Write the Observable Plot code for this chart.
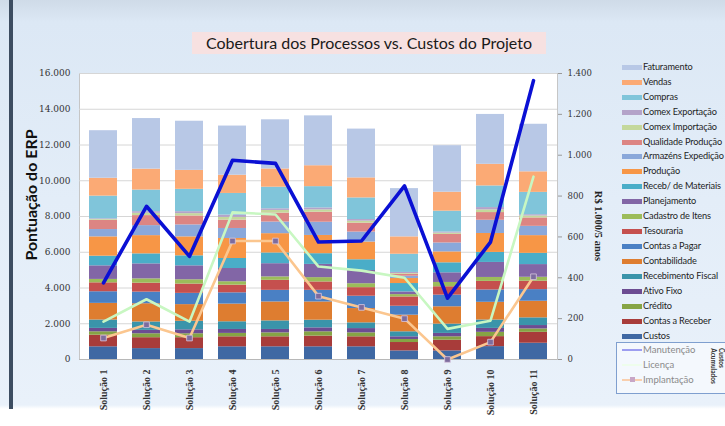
<!DOCTYPE html>
<html><head><meta charset="utf-8">
<script src="https://cdn.jsdelivr.net/npm/d3@7"></script>
<script src="https://cdn.jsdelivr.net/npm/@observablehq/plot@0.6"></script>
<style>
html,body{margin:0;padding:0;}
body{width:725px;height:426px;overflow:hidden;background:#fff;font-family:Lato,sans-serif;}
#wrap{position:relative;width:725px;height:426px;overflow:hidden;
  background:linear-gradient(#cfdbe8 0px,#dce8f5 22px,#e3edf8 200px,#e9f1fa 405px,#ffffff 409px);}
#lborder{position:absolute;left:9px;top:0;width:4px;height:409px;background:#3d4d61;}
#chart{position:absolute;left:0;top:0;}
#title{position:absolute;left:192px;top:32px;width:354px;height:22px;background:#f7e1e1;
  font:16px Lato,sans-serif;color:#1a1a1a;text-align:center;line-height:22px;white-space:nowrap;}
#ytitle{position:absolute;left:30px;top:195px;transform:translate(-50%,-50%) rotate(-90deg);
  font:bold 16px Lato,sans-serif;color:#111;white-space:nowrap;}
#rtitle{position:absolute;left:598px;top:226px;transform:translate(-50%,-50%) rotate(90deg);
  font:bold 10.5px "Liberation Serif",serif;color:#222;white-space:nowrap;}
.li{position:absolute;left:622px;height:14px;font:9.2px Lato,sans-serif;letter-spacing:-0.15px;color:#1e1e1e;white-space:nowrap;}
.li .sw{position:absolute;left:0;top:5px;width:20px;height:5px;}
.li .tx{position:absolute;left:21px;top:0;line-height:14px;}
#box2{position:absolute;left:616px;top:342px;width:120px;height:50px;border:1px solid #7f9fcf;background:#f4f8fd;}
.l2{position:absolute;left:622px;height:14px;font:9.5px Lato,sans-serif;color:#8a8a8a;white-space:nowrap;}
.l2 .ln{position:absolute;left:0;top:6px;width:20px;height:2px;}
.l2 .tx{position:absolute;left:21px;top:0;line-height:14px;}
.vt{position:absolute;transform:translate(-50%,-50%) rotate(90deg);font:bold 6.5px Lato,sans-serif;color:#333;white-space:nowrap;}
</style>
</head><body>
<div id="wrap">
<div id="lborder"></div>
<div id="chart"></div>
<div id="title">Cobertura dos Processos vs. Custos do Projeto</div>
<div id="ytitle">Pontuação do ERP</div>
<div id="rtitle">R$ 1.000/5 anos</div>
<div id="legend"></div>
<div id="box2"></div>
<div id="legend2"></div>
<div class="vt" style="left:713px;top:366px;">Acumulados</div>
<div class="vt" style="left:721px;top:358px;">Custos</div>
</div>
<script>
// Categories
const solucoes = ["Solução 1","Solução 2","Solução 3","Solução 4","Solução 5","Solução 6","Solução 7","Solução 8","Solução 9","Solução 10","Solução 11"];
// Stacked series (bottom to top)
const seriesNames = ["Custos","Contas a Receber","Crédito","Ativo Fixo","Recebimento Fiscal","Contabilidade","Contas a Pagar","Tesouraria","Cadastro de Itens","Planejamento","Receb/ de Materiais","Produção","Armazéns Expedição","Qualidade Produção","Comex Importação","Comex Exportação","Compras","Vendas","Faturamento"];
const seriesColors = ["#3f68a3","#a83c3a","#86a445","#6c4c92","#3a94aa","#de7d30","#4a80c4","#c5504e","#9cbc5a","#8266a6","#4aadc8","#f79646","#8aa8da","#dc8583","#c4d89c","#b4a3c9","#80c5da","#fbaa75","#b8c8e6"];
const custos            = [710,610,610,710,710,710,710,480,480,720,910];
const contasReceber     = [650,610,610,560,560,600,560,470,600,560,610];
const credito           = [190,220,220,190,220,240,220,170,190,240,190];
const ativoFixo         = [190,190,220,220,190,220,240,150,190,220,190];
const recebimentoFiscal = [470,470,480,430,480,430,320,280,520,470,430];
const contabilidade     = [930,1020,930,990,1060,1020,800,930,970,990,930];
const contasPagar       = [650,650,630,630,650,650,690,500,650,690,650];
const tesouraria        = [500,500,520,430,560,470,480,520,470,480,470];
const cadastroItens     = [190,240,240,190,190,240,220,130,240,220,220];
const planejamento      = [760,840,780,740,740,740,740,150,540,840,710];
const recebMateriais    = [540,560,560,560,600,600,600,470,560,560,630];
const producao          = [1080,1020,1060,1120,1080,1020,990,280,610,1060,990];
const armazens          = [410,560,670,560,650,740,560,130,500,740,520];
const qualidade         = [520,560,500,470,500,560,500,110,480,430,470];
const comexImportacao   = [40,130,130,150,150,130,110,40,70,150,110];
const comexExportacao   = [40,90,110,130,90,110,90,60,60,130,70];
const compras           = [1270,1210,1250,1210,1210,1190,1210,1020,1170,1210,1250];
const vendas            = [1000,1170,1060,1020,1020,1170,1120,970,1060,1210,1150];
const faturamento       = [2660,2830,2750,2750,2750,2790,2730,2700,2600,2790,2660];
// Cost lines (R$ 1.000 / 5 anos, right axis)
const manutencao  = [375,750,505,975,960,575,580,850,300,575,1365];
const licenca     = [185,295,185,720,710,455,435,400,150,190,895];
const implantacao = [105,170,105,580,580,310,255,200,0,85,405];
// Ticks
const leftTicks  = [0,2000,4000,6000,8000,10000,12000,14000,16000];
const rightTicks = [0,200,400,600,800,1000,1200,1400];

const seriesValues = [custos,contasReceber,credito,ativoFixo,recebimentoFiscal,contabilidade,contasPagar,tesouraria,cadastroItens,planejamento,recebMateriais,producao,armazens,qualidade,comexImportacao,comexExportacao,compras,vendas,faturamento];
const table = [];
seriesNames.forEach((s,i)=>solucoes.forEach((sol,j)=>table.push({sol, serie:s, v:seriesValues[i][j]})));
const toRows = arr => solucoes.map((sol,j)=>({sol, v:arr[j]}));
const k = 16000/1400;
const fmt = d3.formatLocale({decimal:",",thousands:".",grouping:[3],currency:["R$ ",""]}).format(",");

const plot = Plot.plot({
  width:725, height:426,
  marginLeft:79, marginRight:168, marginTop:73, marginBottom:67,
  style:{background:"transparent", fontFamily:"DejaVu Serif, serif", fontSize:"9px", color:"#333", overflow:"visible"},
  x:{domain:solucoes, paddingInner:0.36, paddingOuter:0.18, label:null},
  y:{domain:[0,16000], label:null},
  color:{domain:seriesNames, range:seriesColors},
  marks:[
    Plot.frame({fill:"white", stroke:"#c6c6c6"}),
    Plot.ruleY(leftTicks.slice(1), {stroke:"#d6d6d6"}),
    Plot.barY(table, {x:"sol", y:"v", fill:"serie", order:seriesNames}),
    Plot.ruleY([0], {stroke:"#b8b8b8"}),
    Plot.axisY({ticks:leftTicks, tickFormat:fmt, tickSize:0, tickPadding:9, label:null}),
    Plot.axisY({anchor:"right", ticks:rightTicks.map(v=>v*k), tickFormat:d=>fmt(Math.round(d/k)), tickSize:4, tickPadding:6, label:null, fontSize:8.5, stroke:"#999"}),
    Plot.axisX({tickRotate:-90, tickSize:0, tickPadding:10, label:null, fontWeight:"bold", fontFamily:"Liberation Serif, serif", fontSize:10}),
    Plot.line(toRows(licenca), {x:"sol", y:d=>d.v*k, stroke:"#c8f7c2", strokeWidth:2.6}),
    Plot.line(toRows(implantacao), {x:"sol", y:d=>d.v*k, stroke:"#fbc68f", strokeWidth:2.6}),
    Plot.dot(toRows(implantacao), {x:"sol", y:d=>d.v*k, symbol:"square", r:3.2, fill:"#7d6c9e", stroke:"#d8c8e0", strokeWidth:0.8}),
    Plot.line(toRows(manutencao), {x:"sol", y:d=>d.v*k, stroke:"#0a10d4", strokeWidth:3.6})
  ]
});
document.getElementById("chart").appendChild(plot);

// Legend (top to bottom = reverse stacking order)
const leg = document.getElementById("legend");
seriesNames.slice().reverse().forEach((s,i)=>{
  const c = seriesColors[seriesNames.indexOf(s)];
  const d = document.createElement("div");
  d.className = "li";
  d.style.top = (66.7 + i*14.96 - 7) + "px";
  d.innerHTML = `<div class="sw" style="background:${c}"></div><div class="tx">${s}</div>`;
  leg.appendChild(d);
});
const lineLegend = [["Manutenção","#9d9df0",false],["Licença","#eefdec",false],["Implantação","#f9cfae",true]];
const leg2 = document.getElementById("legend2");
lineLegend.forEach(([s,c,mk],i)=>{
  const d = document.createElement("div");
  d.className = "l2";
  d.style.top = (350 + i*15 - 7) + "px";
  d.innerHTML = `<div class="ln" style="background:${c}"></div>` +
    (mk ? `<div style="position:absolute;left:8px;top:4px;width:5px;height:5px;background:#c8a6c6"></div>` : "") +
    `<div class="tx">${s}</div>`;
  leg2.appendChild(d);
});
</script>
</body></html>
